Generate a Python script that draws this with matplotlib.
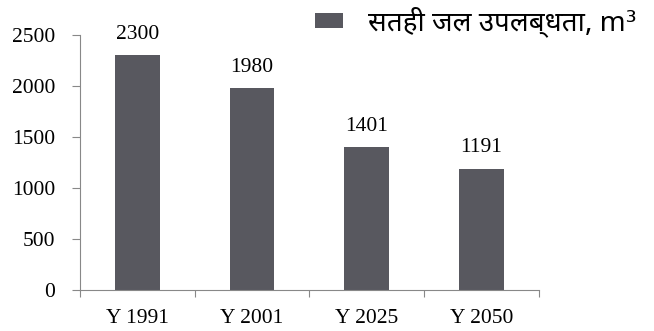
import matplotlib
matplotlib.use('Agg')
import matplotlib.pyplot as plt

years = ['Y 1991', 'Y 2001', 'Y 2025', 'Y 2050']
water = [2300, 1980, 1401, 1191]
legend_label = 'सतही जल उपलब्धता, m³'

plt.rcParams['font.family'] = ['Liberation Serif']
fig = plt.figure(figsize=(6.54, 3.31), dpi=100)
ax = fig.add_axes([0.1223, 0.1239, 0.7017, 0.7703])

x = list(range(len(years)))
ax.bar(x, water, width=0.39, color='#58585f', label=legend_label)
for xi, v in zip(x, water):
    ax.annotate(str(v), (xi, v), xytext=(0, 8), textcoords='offset points',
                ha='center', va='bottom', fontsize=15.5)

ax.set_xlim(-0.5, 3.5)
ax.set_ylim(0, 2500)
ax.set_yticks([0, 500, 1000, 1500, 2000, 2500])
ax.set_xticks([-0.5, 0.5, 1.5, 2.5, 3.5])
ax.set_xticklabels([])
ax.set_xticks(x, minor=True)
ax.set_xticklabels(years, minor=True)
ax.tick_params(axis='x', which='minor', length=0, pad=14, labelsize=15.5)
ax.tick_params(axis='x', which='major', length=5, color='#888888')
ax.tick_params(axis='y', length=6, pad=12, labelsize=15.5, color='#888888')
for s in ['top', 'right']:
    ax.spines[s].set_visible(False)
for s in ['left', 'bottom']:
    ax.spines[s].set_color('#888888')

fig.legend(loc='upper right', bbox_to_anchor=(0.99, 1.015), frameon=False,
           borderaxespad=0,
           prop={'family': ['Noto Sans Devanagari', 'DejaVu Sans'], 'size': 20},
           handlelength=1.0, handleheight=0.45, handletextpad=0.9)

fig.savefig('out.png', dpi=100)
